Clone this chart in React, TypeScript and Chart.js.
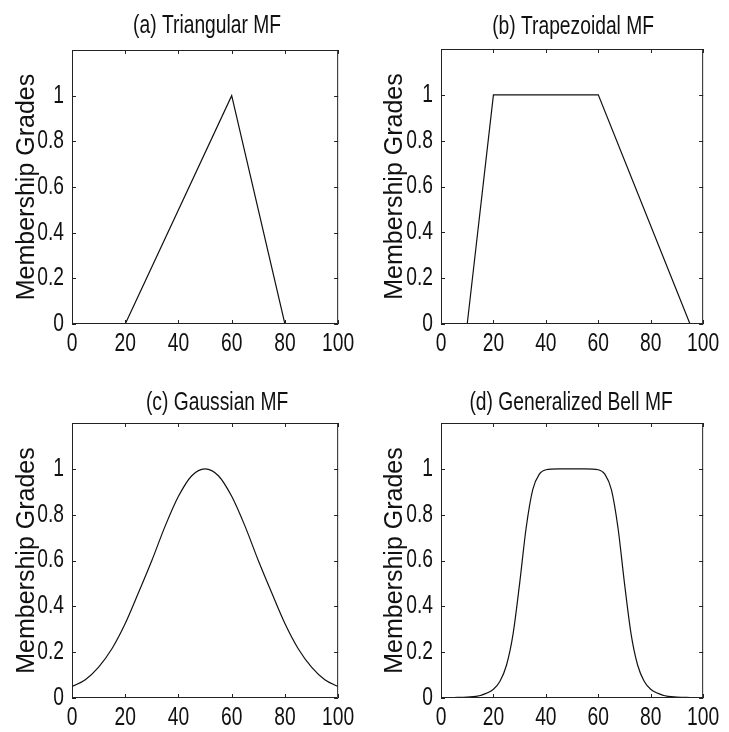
import React, { useEffect, useRef } from "react";
import { Chart, registerables } from "chart.js";

Chart.register(...registerables);

const X_TICK_STEP = 20;
const Y_TICK_STEP = 0.2;
const Y_MAX = 1.2;

const TRI_X = [0, 20, 60, 80, 100];
const TRI_Y = [0, 0, 1, 0, 0];

const TRAP_X = [0, 10, 20, 60, 95, 100];
const TRAP_Y = [0, 0, 1, 1, 0, 0];

const GAUSS_X = [0, 5, 10, 15, 20, 25, 30, 35, 40, 45, 50, 55, 60, 65, 70, 75, 80, 85, 90, 95, 100];
const GAUSS_Y = [0.05, 0.08, 0.135, 0.215, 0.325, 0.46, 0.6, 0.75, 0.88, 0.97, 1, 0.97, 0.88, 0.75, 0.6, 0.46, 0.325, 0.215, 0.135, 0.08, 0.05];

const BELL_X = [0, 5, 10, 15, 20, 22.5, 25, 27.5, 30, 32.5, 35, 37.5, 40, 45, 50, 55, 60, 62.5, 65, 67.5, 70, 72.5, 75, 77.5, 80, 85, 90, 95, 100];
const BELL_Y = [0.001, 0.002, 0.004, 0.011, 0.038, 0.073, 0.144, 0.28, 0.5, 0.744, 0.909, 0.977, 0.996, 1, 1, 1, 0.996, 0.977, 0.909, 0.744, 0.5, 0.28, 0.144, 0.073, 0.038, 0.011, 0.004, 0.002, 0.001];

const TITLES = ["(a) Triangular MF", "(b) Trapezoidal MF", "(c) Gaussian MF", "(d) Generalized Bell MF"];
const Y_LABEL = "Membership Grades";

const FONT = '"Liberation Sans", Arial, Helvetica, sans-serif';
const SQUEEZE = 0.77;
const FS = 25;

type Panel = {
  title: string;
  xs: number[];
  ys: number[];
  smooth: boolean;
  left: number;
  top: number;
  w: number;
  h: number;
  yAxisW: number;
  xAxisH: number;
  padRight: number;
  titleTop: number;
  titleBottom: number;
  titleShift: number;
  yTitlePad: number;
};

const PANELS: Panel[] = [
  { title: TITLES[0], xs: TRI_X, ys: TRI_Y, smooth: false, left: 0, top: 0, w: 364, h: 364, yAxisW: 72, xAxisH: 40, padRight: 23, titleTop: 11, titleBottom: 9, titleShift: 2, yTitlePad: 12 },
  { title: TITLES[1], xs: TRAP_X, ys: TRAP_Y, smooth: false, left: 364, top: 0, w: 365, h: 364, yAxisW: 77, xAxisH: 40, padRight: 20, titleTop: 12, titleBottom: 7, titleShift: 1, yTitlePad: 16 },
  { title: TITLES[2], xs: GAUSS_X, ys: GAUSS_Y, smooth: true, left: 0, top: 366, w: 364, h: 366, yAxisW: 72, xAxisH: 34, padRight: 24, titleTop: 22, titleBottom: 5, titleShift: 12, yTitlePad: 12 },
  { title: TITLES[3], xs: BELL_X, ys: BELL_Y, smooth: true, left: 364, top: 366, w: 365, h: 366, yAxisW: 77, xAxisH: 34, padRight: 20, titleTop: 22, titleBottom: 5, titleShift: -1, yTitlePad: 16 },
];

// Horizontally condense upright text (like the narrow Helvetica of the original figure)
const narrowTextPlugin = {
  id: "narrowText",
  beforeInit(chart: any) {
    const ctx = chart.ctx;
    if (ctx.__narrow) return;
    ctx.__narrow = true;
    const orig = ctx.fillText;
    ctx.fillText = function (text: string, x: number, y: number, maxWidth?: number) {
      const t = this.getTransform();
      if (Math.abs(t.b) < 1e-6 && Math.abs(t.c) < 1e-6) {
        const w = this.measureText(text).width * SQUEEZE;
        const mw = maxWidth === undefined ? w : Math.min(maxWidth, w);
        return orig.call(this, text, x, y, mw);
      }
      if (maxWidth === undefined) return orig.call(this, text, x, y);
      return orig.call(this, text, x, y, maxWidth);
    };
  },
};

// Nudge the title block sideways, as in the original layout
const titleShiftPlugin = {
  id: "titleShift",
  afterLayout(chart: any, _args: any, opts: any) {
    const tb = chart.titleBlock;
    if (tb && opts && opts.dx) {
      tb.left += opts.dx;
      tb.right += opts.dx;
    }
  },
};

const boxTicksPlugin = {
  id: "boxTicks",
  afterDatasetsDraw(chart: any) {
    const { ctx, chartArea } = chart;
    const { left, right, top, bottom } = chartArea;
    const xs = chart.scales.x;
    const ys = chart.scales.y;
    const len = 4;
    ctx.save();
    ctx.strokeStyle = "#222";
    ctx.lineWidth = 1;
    ctx.beginPath();
    ctx.rect(left + 0.5, top + 0.5, right - left - 1, bottom - top - 1);
    ctx.stroke();
    ctx.beginPath();
    xs.ticks.forEach((t: any) => {
      const px = Math.round(xs.getPixelForValue(t.value)) + 0.5;
      ctx.moveTo(px, bottom);
      ctx.lineTo(px, bottom - len);
      ctx.moveTo(px, top);
      ctx.lineTo(px, top + len);
    });
    ys.ticks.forEach((t: any) => {
      const py = Math.round(ys.getPixelForValue(t.value)) + 0.5;
      ctx.moveTo(left, py);
      ctx.lineTo(left + len, py);
      ctx.moveTo(right, py);
      ctx.lineTo(right - len, py);
    });
    ctx.stroke();
    ctx.restore();
  },
};

function MFChart({ p }: { p: Panel }) {
  const ref = useRef<HTMLCanvasElement | null>(null);
  useEffect(() => {
    if (!ref.current) return;
    const data = p.xs.map((x, i) => ({ x, y: p.ys[i] }));
    const chart = new Chart(ref.current, {
      type: "line",
      data: {
        datasets: [
          {
            data,
            borderColor: "#111",
            borderWidth: 1.2,
            pointRadius: 0,
            fill: false,
            tension: 0,
            cubicInterpolationMode: p.smooth ? "monotone" : "default",
          } as any,
        ],
      },
      options: {
        responsive: false,
        animation: false,
        layout: { padding: { left: 0, right: p.padRight, top: 0, bottom: 0 } },
        plugins: {
          legend: { display: false },
          tooltip: { enabled: false },
          titleShift: { dx: p.titleShift },
          title: {
            display: true,
            text: p.title,
            fullSize: false,
            color: "#111",
            font: { family: FONT, size: FS, weight: "normal" as any, lineHeight: 1.2 },
            padding: { top: p.titleTop, bottom: p.titleBottom },
          },
        } as any,
        scales: {
          x: {
            type: "linear",
            min: 0,
            max: 100,
            grid: { display: false, drawTicks: false },
            border: { display: false },
            ticks: {
              stepSize: X_TICK_STEP,
              autoSkip: false,
              maxRotation: 0,
              padding: 5,
              color: "#111",
              font: { family: FONT, size: FS },
            },
            afterFit: (s: any) => {
              s.height = p.xAxisH;
            },
          },
          y: {
            type: "linear",
            min: 0,
            max: Y_MAX,
            grid: { display: false, drawTicks: false },
            border: { display: false },
            ticks: {
              stepSize: Y_TICK_STEP,
              padding: 8,
              color: "#111",
              font: { family: FONT, size: FS },
              callback: (v: any) => (Number(v) > 1.001 ? "" : String(Math.round(Number(v) * 10) / 10)),
            },
            title: {
              display: true,
              text: Y_LABEL,
              color: "#111",
              font: { family: FONT, size: FS, lineHeight: 1.2 },
              padding: { top: p.yTitlePad, bottom: 0 },
            },
            afterFit: (s: any) => {
              s.width = p.yAxisW;
            },
          },
        },
      },
      plugins: [narrowTextPlugin, titleShiftPlugin, boxTicksPlugin],
    });
    return () => chart.destroy();
  }, [p]);
  return (
    <canvas
      ref={ref}
      width={p.w}
      height={p.h}
      style={{ position: "absolute", left: p.left, top: p.top, width: p.w, height: p.h }}
    />
  );
}

export default function App() {
  return (
    <div style={{ position: "absolute", left: 0, top: 0, width: 729, height: 732, background: "#fff", overflow: "hidden" }}>
      {PANELS.map((p, i) => (
        <MFChart key={i} p={p} />
      ))}
    </div>
  );
}
